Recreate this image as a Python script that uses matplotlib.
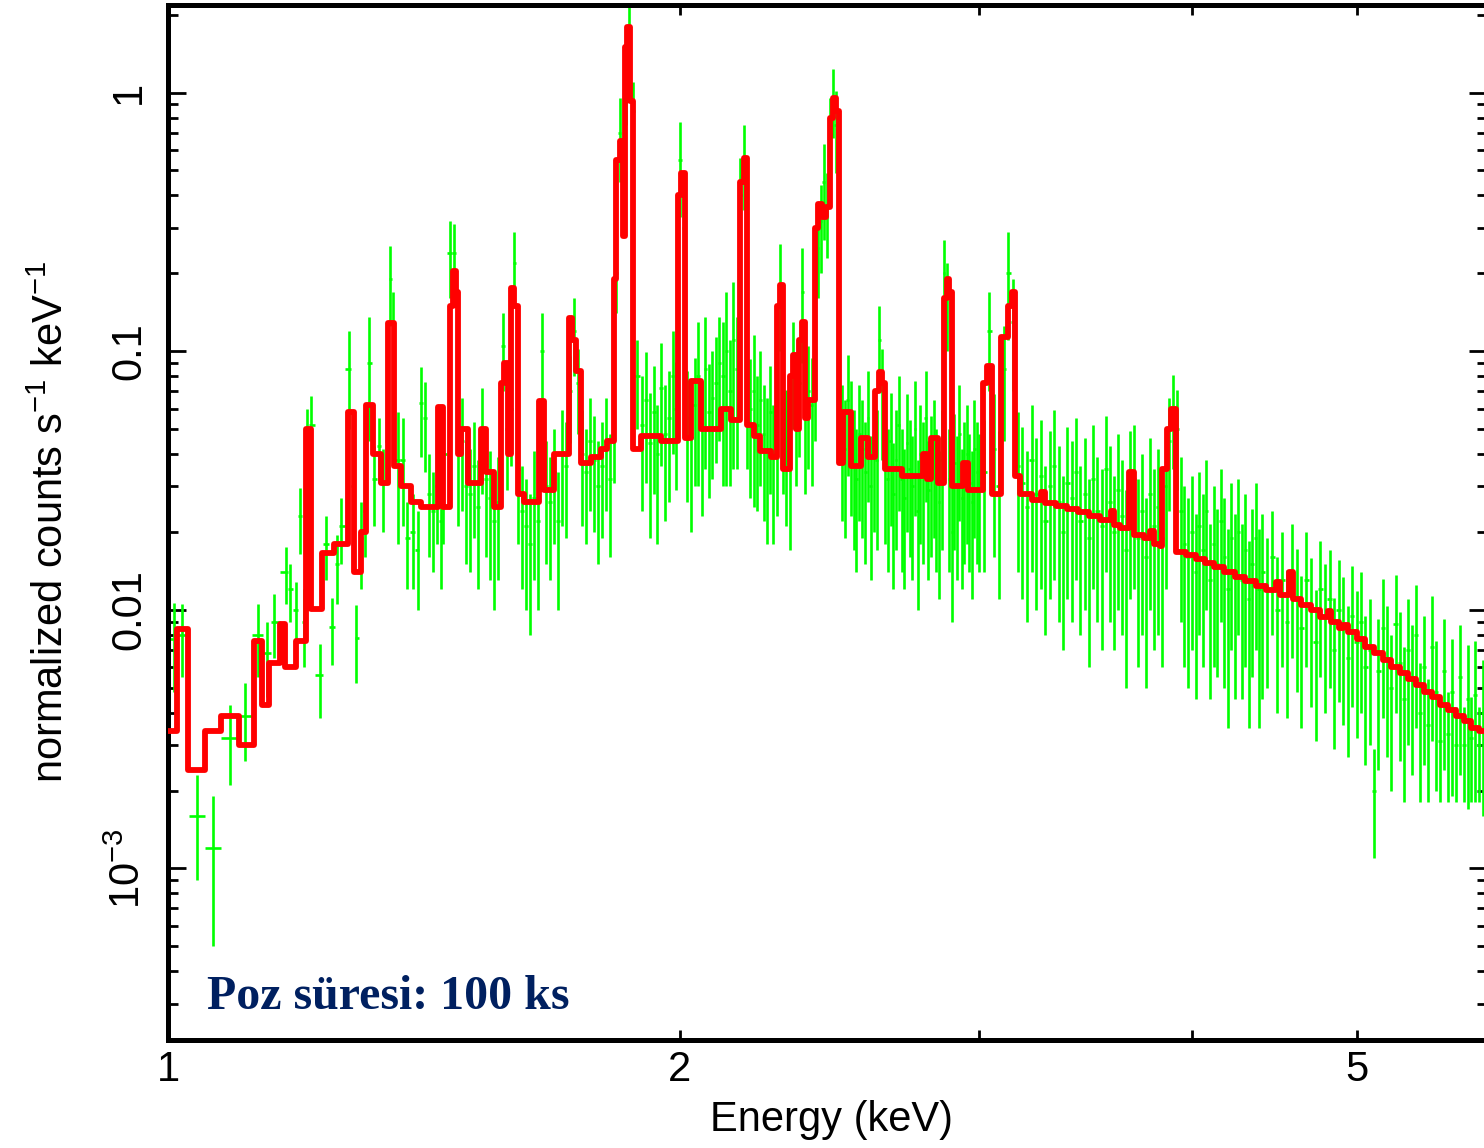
import numpy as np
import matplotlib
matplotlib.use("Agg")
import matplotlib.pyplot as plt
from matplotlib.ticker import FixedLocator, FixedFormatter, NullFormatter, LogLocator

plt.rcParams['font.family'] = ['Liberation Sans', 'DejaVu Sans']
plt.rcParams['mathtext.fontset'] = 'custom'
plt.rcParams['mathtext.rm'] = 'Liberation Sans'
plt.rcParams['mathtext.it'] = 'Liberation Sans:italic'
plt.rcParams['mathtext.bf'] = 'Liberation Sans:bold'

# ---------------- donnees (spectre observe, barres vertes) ----------------
# partie basse energie, bins larges
e_low = [1.008, 1.019, 1.040, 1.063, 1.087, 1.110, 1.130, 1.144, 1.155, 1.173,
         1.180, 1.189, 1.195, 1.203, 1.207, 1.214, 1.228, 1.238, 1.249, 1.257,
         1.264, 1.278, 1.285, 1.290, 1.299, 1.305, 1.313, 1.322, 1.331, 1.338,
         1.345, 1.351, 1.356, 1.365, 1.374, 1.383, 1.394, 1.402, 1.409, 1.416,
         1.424, 1.432, 1.439, 1.447, 1.452, 1.465, 1.473]
y_low = [0.0077, 0.0080, 0.0016, 0.0012, 0.0032, 0.0039, 0.0080, 0.0068, 0.0090, 0.0140,
         0.0120, 0.0100, 0.0230, 0.0090, 0.048, 0.052, 0.0056, 0.018, 0.0086, 0.015,
         0.021, 0.085, 0.030, 0.0078, 0.019, 0.024, 0.090, 0.032, 0.043, 0.031,
         0.045, 0.19, 0.12, 0.038, 0.038, 0.019, 0.020, 0.017, 0.063, 0.055,
         0.028, 0.024, 0.030, 0.022, 0.040, 0.24, 0.24]
err_low = [0.0029, 0.0025, 0.0007, 0.0007, 0.0011, 0.0013, 0.0025, 0.0022, 0.0025, 0.0035,
           0.0030, 0.0028, 0.0065, 0.0030, 0.012, 0.015, 0.0018, 0.005, 0.0025, 0.0045,
           0.006, 0.035, 0.010, 0.0026, 0.007, 0.008, 0.045, 0.011, 0.012, 0.011,
           0.014, 0.065, 0.05, 0.020, 0.017, 0.007, 0.008, 0.007, 0.024, 0.021,
           0.012, 0.010, 0.012, 0.010, 0.022, 0.08, 0.07]

e_mid = [1.481, 1.489, 1.497, 1.506, 1.514, 1.522, 1.530, 1.538, 1.547, 1.555,
         1.564, 1.574, 1.583, 1.591, 1.598, 1.606, 1.615, 1.624, 1.632, 1.641,
         1.650, 1.659, 1.668, 1.677, 1.687, 1.696, 1.705, 1.714, 1.723, 1.733,
         1.742, 1.751, 1.761, 1.771, 1.780, 1.790, 1.800, 1.810, 1.820, 1.828,
         1.835, 1.843, 1.850, 1.858, 1.866, 1.877, 1.887]
y_mid = [0.040, 0.045, 0.030, 0.028, 0.036, 0.025, 0.050, 0.032, 0.027, 0.022,
         0.026, 0.105, 0.050, 0.060, 0.22, 0.035, 0.024, 0.021, 0.018, 0.027,
         0.022, 0.100, 0.030, 0.026, 0.034, 0.022, 0.040, 0.036, 0.070, 0.120,
         0.075, 0.040, 0.034, 0.045, 0.038, 0.030, 0.036, 0.045, 0.032, 0.055,
         0.20, 0.70, 0.45, 1.10, 1.70, 0.85, 0.080]
err_mid = [0.019, 0.021, 0.015, 0.014, 0.017, 0.013, 0.022, 0.016, 0.014, 0.012,
           0.013, 0.035, 0.021, 0.024, 0.07, 0.017, 0.012, 0.011, 0.010, 0.014,
           0.012, 0.040, 0.015, 0.013, 0.016, 0.012, 0.019, 0.017, 0.026, 0.040,
           0.027, 0.019, 0.016, 0.021, 0.018, 0.015, 0.017, 0.021, 0.016, 0.024,
           0.06, 0.25, 0.15, 0.35, 0.45, 0.25, 0.030]

e_d1 = [1.90, 1.91, 1.92, 1.93, 1.94, 1.95, 1.96, 1.97, 1.98, 1.99,
        2.00, 2.01, 2.02, 2.03, 2.04, 2.05, 2.06, 2.07, 2.08, 2.09,
        2.10, 2.11, 2.12, 2.13, 2.14, 2.15, 2.16, 2.17, 2.18, 2.19,
        2.20, 2.21, 2.22, 2.23, 2.24, 2.25, 2.26, 2.27, 2.28, 2.29,
        2.30, 2.31, 2.32, 2.33, 2.34, 2.35, 2.36, 2.37, 2.38, 2.39,
        2.40, 2.41, 2.42, 2.43, 2.44, 2.45, 2.46, 2.47, 2.48, 2.49,
        2.50, 2.51, 2.52, 2.53, 2.54, 2.55, 2.56, 2.57, 2.58, 2.59,
        2.60, 2.61, 2.62, 2.63, 2.64, 2.65, 2.66, 2.67, 2.68, 2.69,
        2.70, 2.71, 2.72, 2.73, 2.74, 2.75, 2.76, 2.77, 2.78, 2.79,
        2.80, 2.81, 2.82, 2.83, 2.84, 2.85, 2.86, 2.87, 2.88, 2.89,
        2.90, 2.91, 2.92, 2.93, 2.94, 2.95, 2.96, 2.97, 2.98, 2.99,
        3.00]
y_d1 = [0.052, 0.065, 0.044, 0.058, 0.040, 0.072, 0.048, 0.055, 0.080, 0.060,
        0.55, 0.30, 0.055, 0.046, 0.062, 0.080, 0.050, 0.085, 0.058, 0.066,
        0.075, 0.090, 0.080, 0.100, 0.070, 0.110, 0.085, 0.40, 0.55, 0.075,
        0.060, 0.070, 0.052, 0.065, 0.048, 0.042, 0.058, 0.040, 0.050, 0.18,
        0.060, 0.046, 0.038, 0.090, 0.060, 0.075, 0.17, 0.058, 0.070, 0.062,
        0.085, 0.25, 0.32, 0.45, 0.36, 0.70, 0.95, 0.75, 0.12, 0.048,
        0.042, 0.065, 0.050, 0.038, 0.032, 0.048, 0.042, 0.034, 0.055, 0.030,
        0.044, 0.038, 0.11, 0.070, 0.040, 0.032, 0.045, 0.028, 0.038, 0.052,
        0.032, 0.027, 0.044, 0.035, 0.030, 0.050, 0.024, 0.040, 0.034, 0.055,
        0.029, 0.036, 0.042, 0.032, 0.026, 0.038, 0.20, 0.16, 0.032, 0.020,
        0.037, 0.030, 0.048, 0.027, 0.034, 0.040, 0.031, 0.026, 0.042, 0.034,
        0.031]
err_d1 = [0.028, 0.034, 0.025, 0.030, 0.022, 0.036, 0.026, 0.029, 0.040, 0.031,
          0.22, 0.12, 0.029, 0.026, 0.032, 0.050, 0.027, 0.050, 0.031, 0.034,
          0.038, 0.045, 0.050, 0.070, 0.040, 0.075, 0.050, 0.16, 0.20, 0.040,
          0.033, 0.045, 0.028, 0.035, 0.026, 0.024, 0.030, 0.022, 0.027, 0.08,
          0.032, 0.025, 0.021, 0.040, 0.030, 0.036, 0.08, 0.030, 0.035, 0.032,
          0.040, 0.09, 0.12, 0.18, 0.13, 0.25, 0.28, 0.26, 0.05, 0.026,
          0.023, 0.032, 0.027, 0.021, 0.018, 0.026, 0.023, 0.019, 0.029, 0.017,
          0.024, 0.021, 0.04, 0.032, 0.022, 0.018, 0.024, 0.016, 0.021, 0.028,
          0.018, 0.015, 0.024, 0.019, 0.017, 0.027, 0.014, 0.022, 0.019, 0.029,
          0.016, 0.020, 0.023, 0.018, 0.015, 0.021, 0.07, 0.06, 0.018, 0.011,
          0.020, 0.017, 0.026, 0.015, 0.019, 0.022, 0.017, 0.015, 0.023, 0.019,
          0.017]

e_d2 = [3.02, 3.04, 3.06, 3.08, 3.10, 3.12, 3.14, 3.16, 3.18, 3.20,
        3.22, 3.24, 3.26, 3.28, 3.30, 3.32, 3.34, 3.36, 3.38, 3.40,
        3.42, 3.44, 3.46, 3.48, 3.50, 3.52, 3.54, 3.56, 3.58, 3.60,
        3.62, 3.64, 3.66, 3.68, 3.70, 3.72, 3.74, 3.76, 3.78, 3.80,
        3.82, 3.84, 3.86, 3.88, 3.90, 3.92, 3.94, 3.96, 3.98, 4.00,
        4.02, 4.04, 4.06, 4.08, 4.10, 4.12, 4.14, 4.16, 4.18, 4.20,
        4.22, 4.24, 4.26, 4.28, 4.30, 4.32, 4.34, 4.36, 4.38, 4.40]
y_d2 = [0.034, 0.12, 0.042, 0.030, 0.085, 0.20, 0.13, 0.036, 0.031, 0.025,
        0.038, 0.028, 0.033, 0.022, 0.030, 0.036, 0.026, 0.020, 0.031, 0.027,
        0.034, 0.022, 0.028, 0.019, 0.032, 0.024, 0.021, 0.035, 0.026, 0.020,
        0.029, 0.023, 0.017, 0.030, 0.032, 0.019, 0.024, 0.016, 0.028, 0.021,
        0.025, 0.019, 0.030, 0.045, 0.058, 0.050, 0.024, 0.018, 0.016, 0.020,
        0.014, 0.021, 0.017, 0.024, 0.013, 0.018, 0.015, 0.022, 0.016, 0.012,
        0.019, 0.014, 0.020, 0.013, 0.017, 0.011, 0.015, 0.019, 0.012, 0.014]
err_d2 = [0.020, 0.05, 0.026, 0.019, 0.04, 0.09, 0.06, 0.022, 0.020, 0.016,
          0.024, 0.018, 0.021, 0.014, 0.019, 0.023, 0.017, 0.013, 0.020, 0.018,
          0.021, 0.014, 0.018, 0.013, 0.020, 0.015, 0.014, 0.021, 0.017, 0.013,
          0.019, 0.015, 0.012, 0.019, 0.020, 0.013, 0.016, 0.011, 0.018, 0.014,
          0.017, 0.013, 0.018, 0.021, 0.023, 0.021, 0.015, 0.012, 0.011, 0.013,
          0.0095, 0.013, 0.011, 0.014, 0.0085, 0.012, 0.0095, 0.013, 0.011, 0.0085,
          0.012, 0.0095, 0.012, 0.0085, 0.011, 0.0075, 0.0095, 0.012, 0.0085, 0.0095]

e_d3 = [4.43, 4.46, 4.49, 4.52, 4.55, 4.58, 4.61, 4.64, 4.67, 4.70,
        4.73, 4.76, 4.79, 4.82, 4.85, 4.88, 4.91, 4.94, 4.97, 5.00,
        5.03, 5.06, 5.09, 5.12, 5.15, 5.18, 5.21, 5.24, 5.27, 5.30,
        5.33, 5.36, 5.39, 5.42, 5.45, 5.48, 5.51, 5.54, 5.57, 5.60,
        5.63, 5.66, 5.69, 5.72, 5.75, 5.78, 5.81, 5.84, 5.87, 5.90,
        5.93, 5.96]
y_d3 = [0.012, 0.016, 0.010, 0.013, 0.0090, 0.014, 0.011, 0.0085, 0.013, 0.010,
        0.0075, 0.012, 0.0095, 0.011, 0.0070, 0.010, 0.0085, 0.0065, 0.0095, 0.0075,
        0.0090, 0.0060, 0.0070, 0.0020, 0.0058, 0.0085, 0.0065, 0.0050, 0.0088, 0.0062,
        0.0045, 0.0070, 0.0055, 0.0080, 0.0040, 0.0060, 0.0036, 0.0072, 0.0048, 0.0031,
        0.0058, 0.0033, 0.0048, 0.0030, 0.0055, 0.0030, 0.0045, 0.0032, 0.0047, 0.0030,
        0.0040, 0.0032]
err_d3 = [0.007, 0.008, 0.006, 0.007, 0.0052, 0.0075, 0.0062, 0.0050, 0.0070, 0.0058,
          0.0044, 0.0065, 0.0055, 0.0060, 0.0041, 0.0056, 0.0049, 0.0038, 0.0053, 0.0043,
          0.0050, 0.0035, 0.0040, 0.0009, 0.0034, 0.0047, 0.0038, 0.0030, 0.0048, 0.0036,
          0.0027, 0.0040, 0.0032, 0.0045, 0.0022, 0.0035, 0.0018, 0.0041, 0.0028, 0.0013,
          0.0034, 0.0015, 0.0029, 0.0012, 0.0032, 0.0012, 0.0028, 0.0014, 0.0029, 0.0012,
          0.0024, 0.0014]

# ---------------- modele (histogramme rouge) ----------------
# bord gauche de chaque bin et valeur du modele
model_e = [1.000, 1.012, 1.027, 1.052, 1.075, 1.101, 1.124, 1.136, 1.147, 1.163,
           1.172, 1.189, 1.206, 1.214, 1.232, 1.252, 1.276, 1.287, 1.299, 1.308,
           1.320, 1.334, 1.347, 1.358, 1.371, 1.390, 1.409, 1.442, 1.452, 1.464,
           1.470, 1.476, 1.481, 1.487, 1.501, 1.528, 1.538, 1.555, 1.570, 1.577,
           1.585, 1.591, 1.598, 1.606, 1.620, 1.652, 1.663, 1.686, 1.720, 1.728,
           1.737, 1.750, 1.773, 1.798, 1.812, 1.828, 1.835, 1.843, 1.851, 1.856,
           1.862, 1.869, 1.877, 1.898, 1.950, 1.995, 2.004, 2.015, 2.031, 2.058,
           2.115, 2.144, 2.170, 2.180, 2.190, 2.210, 2.230, 2.263, 2.280, 2.290,
           2.300, 2.320, 2.330, 2.340, 2.350, 2.360, 2.370, 2.380, 2.400, 2.412,
           2.425, 2.437, 2.450, 2.460, 2.470, 2.480, 2.495, 2.520, 2.557, 2.580,
           2.605, 2.617, 2.628, 2.640, 2.700, 2.780, 2.795, 2.810, 2.835, 2.860,
           2.870, 2.880, 2.890, 2.935, 2.955, 3.015, 3.030, 3.050, 3.090, 3.120,
           3.135, 3.150, 3.170, 3.220, 3.260, 3.280, 3.330, 3.380, 3.430, 3.480,
           3.530, 3.585, 3.600, 3.630, 3.675, 3.700, 3.750, 3.780, 3.800, 3.830,
           3.844, 3.866, 3.890, 3.917, 3.970, 4.020, 4.070, 4.120, 4.180, 4.240,
           4.300, 4.360, 4.420, 4.480, 4.510, 4.560, 4.590, 4.640, 4.700, 4.760,
           4.810, 4.830, 4.880, 4.910, 4.940, 5.000, 5.060, 5.120, 5.180, 5.240,
           5.300, 5.360, 5.420, 5.480, 5.540, 5.600, 5.660, 5.720, 5.780, 5.840,
           5.900, 5.960]
model_y = [0.0034, 0.0084, 0.0024, 0.0034, 0.0039, 0.0030, 0.0076, 0.0043, 0.0062, 0.0088,
           0.0060, 0.0076, 0.050, 0.0101, 0.0166, 0.018, 0.058, 0.014, 0.020, 0.062,
           0.040, 0.031, 0.128, 0.036, 0.030, 0.026, 0.025, 0.061, 0.025, 0.150,
           0.205, 0.170, 0.040, 0.050, 0.031, 0.050, 0.034, 0.025, 0.075, 0.090,
           0.040, 0.175, 0.150, 0.028, 0.026, 0.064, 0.029, 0.040, 0.134, 0.110,
           0.084, 0.037, 0.039, 0.042, 0.045, 0.19, 0.55, 0.65, 0.28, 1.50,
           1.80, 0.93, 0.042, 0.047, 0.045, 0.40, 0.49, 0.046, 0.077, 0.050,
           0.060, 0.054, 0.45, 0.56, 0.052, 0.047, 0.041, 0.039, 0.15, 0.18,
           0.035, 0.080, 0.097, 0.050, 0.11, 0.13, 0.055, 0.065, 0.30, 0.37,
           0.33, 0.36, 0.80, 0.95, 0.85, 0.037, 0.058, 0.036, 0.046, 0.039,
           0.070, 0.083, 0.075, 0.035, 0.033, 0.040, 0.032, 0.046, 0.031, 0.16,
           0.19, 0.17, 0.030, 0.037, 0.029, 0.075, 0.088, 0.028, 0.113, 0.15,
           0.17, 0.033, 0.0280, 0.0265, 0.0285, 0.0258, 0.0252, 0.0245, 0.0238, 0.0230,
           0.0222, 0.0240, 0.0212, 0.0208, 0.034, 0.0195, 0.0190, 0.0202, 0.0180, 0.0176,
           0.035, 0.050, 0.060, 0.0168, 0.0163, 0.0157, 0.0151, 0.0146, 0.0140, 0.0134,
           0.0129, 0.0124, 0.0119, 0.0128, 0.0114, 0.0140, 0.0110, 0.0104, 0.0100, 0.0094,
           0.0099, 0.0090, 0.0085, 0.0087, 0.0082, 0.0077, 0.0072, 0.0068, 0.0064, 0.0060,
           0.0057, 0.0054, 0.0051, 0.0048, 0.0046, 0.0043, 0.0041, 0.0039, 0.0037, 0.0035,
           0.0034, 0.0032]
model_fin = 6.0

# ---------------- figure ----------------
W, H = 1484, 1148
fig = plt.figure(figsize=(W / 100, H / 100), dpi=100)
ax = fig.add_axes([168 / W, 1 - 1040 / H, (1487 - 168) / W, (1040 - 4.5) / H])
ax.set_xscale('log')
ax.set_yscale('log')

e = np.array(e_low + e_mid + e_d1 + e_d2 + e_d3)
y = np.array(y_low + y_mid + y_d1 + y_d2 + y_d3)
err = np.array(err_low + err_mid + err_d1 + err_d2 + err_d3)

# demi-largeur des bins : milieu entre centres voisins
bords = np.concatenate(([e[0] - (e[1] - e[0]) / 2], (e[1:] + e[:-1]) / 2,
                        [e[-1] + (e[-1] - e[-2]) / 2]))
xerr = [e - bords[:-1], bords[1:] - e]

ax.errorbar(e, y, yerr=err, xerr=xerr, fmt='none', ecolor='#00ff00',
            elinewidth=1.9, capsize=0, zorder=2)

me = np.append(model_e, model_fin)
my = np.append(model_y, model_y[-1])
ax.step(me, my, where='post', color='#ff0000', lw=4.2, zorder=3)

ax.set_xlim(1.0, 5.965)
ax.set_ylim(2.17e-4, 2.19)

ax.xaxis.set_major_locator(FixedLocator([1, 2, 5]))
ax.xaxis.set_major_formatter(FixedFormatter(['1', '2', '5']))
ax.xaxis.set_minor_locator(FixedLocator([3, 4]))
ax.xaxis.set_minor_formatter(NullFormatter())
ax.yaxis.set_major_locator(FixedLocator([1e-3, 1e-2, 1e-1, 1]))
ax.yaxis.set_major_formatter(FixedFormatter([r'$\mathdefault{10^{-3}}$', '0.01', '0.1', '1']))
ax.yaxis.set_minor_locator(LogLocator(base=10, subs=np.arange(2, 10) * 1.0, numticks=20))
ax.yaxis.set_minor_formatter(NullFormatter())

ax.tick_params(which='both', direction='in', top=True, right=True, width=2.0, colors='black')
ax.tick_params(axis='y', which='major', length=13, pad=13.5, labelsize=30, labelrotation=90)
ax.tick_params(axis='y', which='minor', length=7)
ax.tick_params(axis='x', which='both', length=7, pad=7, labelsize=30)
for lbl in ax.get_yticklabels():
    lbl.set_verticalalignment('center')

for s in ax.spines.values():
    s.set_linewidth(3.6)

fig.text(52 / W, 1 - 522 / H, r'normalized counts s$^{-1}$ keV$^{-1}$', rotation=90,
         ha='center', va='center', fontsize=30)
fig.text(832 / W, 1 - 1120 / H, 'Energy (keV)', ha='center', va='center', fontsize=30)

fig.text(207 / W, 1 - 1009 / H, 'Poz süresi: 100 ks', family='Liberation Serif',
         weight='bold', fontsize=34.5, color='#002060', ha='left', va='baseline')

fig.savefig('out.png', dpi=100)
